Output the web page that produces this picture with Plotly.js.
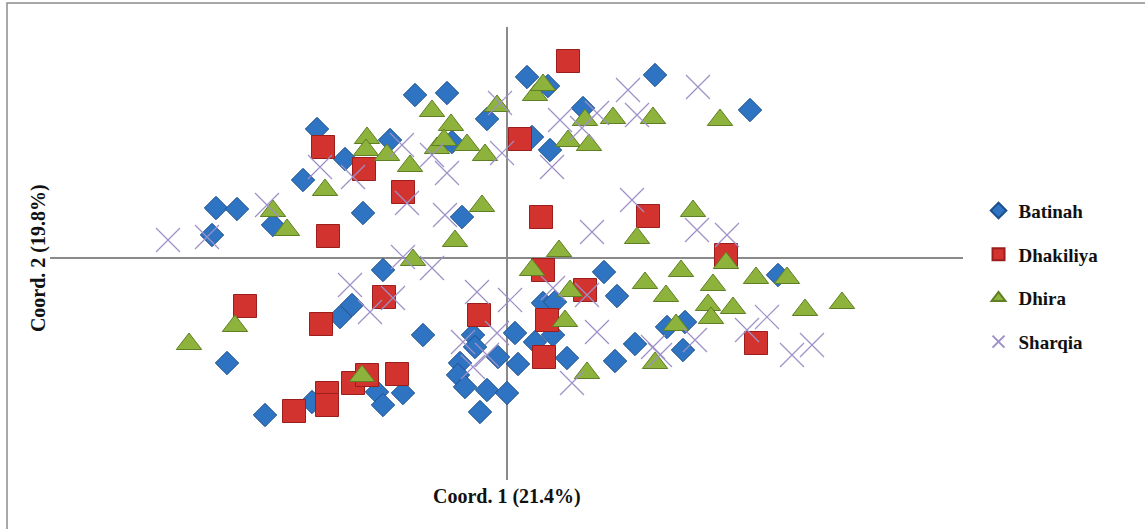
<!DOCTYPE html>
<html>
<head>
<meta charset="utf-8">
<script src="https://cdn.plot.ly/plotly-3.0.1.min.js"></script>
<style>html,body{margin:0;padding:0;background:#fff;}#chart{width:1145px;height:529px;}</style>
</head>
<body>
<div id="chart"></div>
<script>
// Coordinates of each sample on PCoA axes 1 and 2
const batinahX = [-0.92,-0.60,-0.20,-1.90,-1.17,-1.62,-0.55,-2.04,-2.91,-2.70,-2.95,-2.34,-1.44,-0.45,0.20,0.41,1.48,2.43,0.76,0.25,0.43,-1.24,-1.55,-1.67,-0.84,-2.80,-0.34,-0.32,-0.47,-0.49,-0.42,-0.20,0.00,-0.27,-0.09,0.08,0.11,-1.30,-1.04,-1.24,-2.42,-1.95,0.97,1.10,0.36,0.48,0.60,1.08,1.28,1.76,1.60,1.78,2.71,0.28,0.46];
const batinahY = [1.63,1.65,1.39,1.29,1.18,0.99,1.16,0.78,0.50,0.49,0.23,0.33,0.45,0.41,1.81,1.72,1.83,1.48,1.50,1.21,1.08,-0.12,-0.47,-0.59,-0.77,-1.05,-0.77,-0.89,-1.05,-1.17,-1.29,-1.32,-1.35,-1.54,-0.99,-0.75,-1.06,-1.34,-1.35,-1.47,-1.57,-1.44,-0.14,-0.38,-0.45,-0.44,-1.00,-1.03,-0.86,-0.92,-0.69,-0.64,-0.17,-0.84,-0.77];

const dhakiliyaX = [0.61,-1.84,-1.43,-1.04,-1.79,0.13,0.34,1.41,2.19,-2.62,-1.86,-1.23,-0.28,-2.13,-1.80,-1.80,-1.54,-1.40,-1.10,0.36,0.78,0.40,0.37,2.49];
const dhakiliyaY = [1.97,1.11,0.89,0.66,0.22,1.19,0.41,0.42,0.03,-0.48,-0.66,-0.39,-0.57,-1.53,-1.35,-1.47,-1.25,-1.17,-1.16,-0.12,-0.32,-0.62,-0.99,-0.85];

const dhiraX = [-0.75,-0.56,-0.10,-1.40,-1.41,-1.20,-0.97,-0.70,-0.63,-0.40,-0.22,-1.82,-2.34,-2.20,-0.25,-0.52,-0.94,0.28,0.36,0.78,1.06,1.46,2.13,0.61,0.82,1.86,1.30,0.52,-3.18,-2.72,-1.45,0.25,0.63,0.58,1.38,1.74,1.59,2.19,2.06,2.01,2.04,2.26,2.49,2.80,2.98,3.35,1.69,1.48,0.80];
const dhiraY = [1.47,1.33,1.52,1.20,1.08,1.03,0.92,1.10,1.18,1.13,1.03,0.68,0.47,0.28,0.52,0.17,-0.02,1.63,1.73,1.38,1.40,1.40,1.38,1.17,1.13,0.47,0.20,0.07,-0.86,-0.68,-1.18,-0.12,-0.33,-0.63,-0.25,-0.13,-0.38,-0.05,-0.27,-0.47,-0.60,-0.50,-0.20,-0.20,-0.52,-0.45,-0.67,-1.05,-1.15];

const sharqiaX = [-3.39,-3.00,-2.40,-1.87,-1.54,-1.05,-0.75,-0.60,-0.62,-0.07,-0.05,-1.04,-0.75,-1.00,1.21,1.91,0.53,0.90,1.30,0.45,0.75,1.25,0.85,1.90,2.20,-1.57,-1.37,-1.14,-0.30,0.03,-0.44,-0.20,-0.34,-0.10,0.46,0.80,0.90,2.60,2.40,1.88,1.46,3.05,2.85,0.65,1.53];
const sharqiaY = [0.18,0.21,0.53,0.91,0.81,1.13,1.03,0.85,0.43,1.55,1.05,0.01,-0.10,0.55,1.68,1.71,1.38,1.45,1.43,0.91,1.30,0.58,0.26,0.28,0.23,-0.27,-0.54,-0.40,-0.34,-0.42,-0.84,-0.97,-1.09,-0.75,-0.30,-0.37,-0.74,-0.59,-0.72,-0.82,-0.89,-0.87,-0.97,-1.25,-0.97];

const seriesNames = ["Batinah","Dhakiliya","Dhira","Sharqia"];
const axisTitleX = "Coord. 1 (21.4%)";
const axisTitleY = "Coord. 2 (19.8%)";

const serif = "'Liberation Serif', 'Times New Roman', serif";

const traces = [
  {x: batinahX, y: batinahY, name: seriesNames[0], legendgroup: "a", type: "scatter", mode: "markers",
   marker: {symbol: "diamond", size: 18, color: "#2f74c2", line: {color: "#1d4f8c", width: 1}}},
  {x: dhakiliyaX, y: dhakiliyaY, name: seriesNames[1], legendgroup: "b", type: "scatter", mode: "markers",
   marker: {symbol: "square", size: 23, color: "#d3332e", line: {color: "#9a1f1c", width: 1}}},
  {x: dhiraX, y: dhiraY, name: seriesNames[2], legendgroup: "c", type: "scatter", mode: "markers",
   marker: {symbol: "triangle-up", size: 22, color: "#8db33c", line: {color: "#5f7f24", width: 1}}},
  {x: sharqiaX, y: sharqiaY, name: seriesNames[3], legendgroup: "d", type: "scatter", mode: "markers",
   marker: {symbol: "x-thin-open", size: 24, color: "#9d90c8", line: {color: "#9d90c8", width: 1.2}}}
];

const layout = {
  width: 1145, height: 529,
  margin: {l: 50, r: 182, t: 27, b: 49},
  paper_bgcolor: "#ffffff", plot_bgcolor: "#ffffff",
  hovermode: false,
  showlegend: true,
  xaxis: {range: [-4.57, 4.56], showgrid: false, showticklabels: false, ticks: "", showline: false,
          zeroline: true, zerolinecolor: "#8a8a8a", zerolinewidth: 1.5, fixedrange: true},
  yaxis: {range: [-2.22, 2.31], showgrid: false, showticklabels: false, ticks: "", showline: false,
          zeroline: true, zerolinecolor: "#8a8a8a", zerolinewidth: 1.5, fixedrange: true},
  legend: {x: 1.017, xanchor: "left", y: 0.45, yanchor: "middle", traceorder: "grouped", tracegroupgap: 16,
           itemsizing: "constant", itemwidth: 30,
           font: {family: serif, size: 19, color: "#111", weight: "bold"}, bgcolor: "rgba(0,0,0,0)"},
  annotations: [
    {text: "<b>" + axisTitleX + "</b>", xref: "paper", yref: "paper", x: 0.5, y: -0.0375,
     xanchor: "center", yanchor: "middle", showarrow: false, font: {family: serif, size: 20, color: "#111"}},
    {text: "<b>" + axisTitleY + "</b>", xref: "paper", yref: "paper", x: -0.0131, y: 0.49, textangle: -90,
     xanchor: "center", yanchor: "middle", showarrow: false, font: {family: serif, size: 20, color: "#111"}}
  ],
  shapes: [
    {type: "rect", xref: "paper", yref: "paper", x0: -0.0471, x1: 1.205, y0: -0.14, y1: 1.053,
     line: {color: "#8c8c8c", width: 1.5}, fillcolor: "rgba(0,0,0,0)", layer: "below"}
  ]
};

Plotly.newPlot("chart", traces, layout, {displayModeBar: false, staticPlot: true});
</script>
</body>
</html>
